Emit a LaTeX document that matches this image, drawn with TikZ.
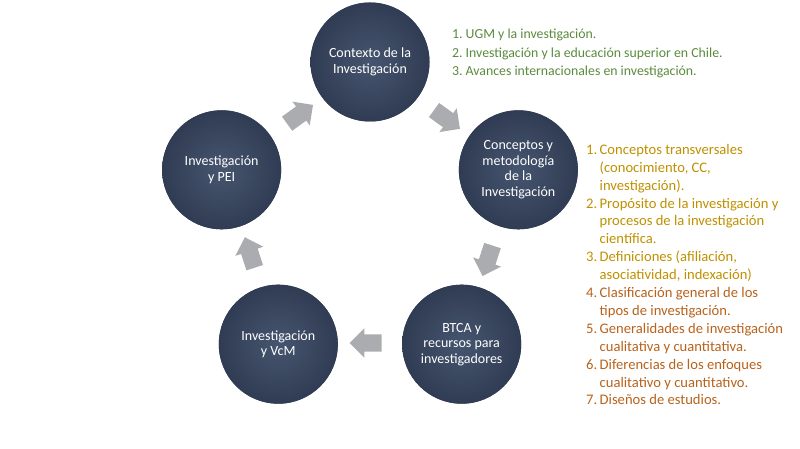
\documentclass[tikz,border=0pt]{standalone}
\usepackage{fontspec}
\setmainfont{Carlito}
\usepackage{xcolor}
\usetikzlibrary{shapes,arrows,positioning,calc}

\definecolor{slate}{HTML}{3E4C65}
\definecolor{slatein}{HTML}{46556F}
\definecolor{slateout}{HTML}{303C53}
\definecolor{arrowgray}{HTML}{AAACAF}
\definecolor{listgreen}{HTML}{5A8A3C}
\definecolor{listgold}{HTML}{BF9000}
\definecolor{listbrown}{HTML}{B8621B}

\newcommand{\itm}[2]{\makebox[13.5pt][l]{#1}#2}
\newcommand{\cnt}[1]{\hspace*{13.5pt}#1}

\begin{document}
\begin{tikzpicture}[x=1pt,y=1pt,
    circ/.style={circle, fill=slate, inner color=slatein, outer color=slateout, minimum size=119pt, inner sep=0pt, text=white, align=center, font=\fontsize{14}{15.5}\selectfont},
    blockarrow/.style={single arrow, fill=arrowgray, minimum height=32pt, inner xsep=0pt, inner ysep=8.5pt, single arrow head extend=6pt}]
    \useasboundingbox (0,0) rectangle (800,449);
    \coordinate (o) at (370,231);

    % Circles
    \node [circ] (ctx)  at ($(o)+(90:156pt)$)   {Contexto de la\\Investigación};
    \node [circ] (conc) at ($(o)+(18:156pt)$)   {Conceptos y\\metodología\\de la\\Investigación};
    \node [circ] (btca) at ($(o)+(-54:156pt)$)  {BTCA y\\recursos para\\investigadores};
    \node [circ] (vcm)  at ($(o)+(-126:156pt)$) {Investigación\\y VcM};
    \node [circ] (pei)  at ($(o)+(162:156pt)$)  {Investigación\\y PEI};

    % Arrows
    \foreach \a [count=\i] in {54,-18,-90,-162,126}
        \node [blockarrow, rotate=\a-90] (arr\i) at ($(o)+(\a:125pt)$) {};

    % Lists
    \node [anchor=north west, inner sep=0pt, align=left, text=listgreen, font=\fontsize{13.8}{18.5}\selectfont] (ctxlist) at (452,420)
        {\itm{1.}{UGM y la investigación.}\\
         \itm{2.}{Investigación y la educación superior en Chile.}\\
         \itm{3.}{Avances internacionales en investigación.}};
    \node [anchor=north west, inner sep=0pt, align=left, text=listgold, font=\fontsize{14.6}{17.9}\selectfont] (conclist) at (586,305)
        {\itm{1.}{Conceptos transversales}\\
         \cnt{(conocimiento, CC,}\\
         \cnt{investigación).}\\
         \itm{2.}{Propósito de la investigación y}\\
         \cnt{procesos de la investigación}\\
         \cnt{científica.}\\
         \itm{3.}{Definiciones (afiliación,}\\
         \cnt{asociatividad, indexación)}\\
         \textcolor{listbrown}{\itm{4.}{Clasificación general de los}}\\
         \textcolor{listbrown}{\cnt{tipos de investigación.}}\\
         \textcolor{listbrown}{\itm{5.}{Generalidades de investigación}}\\
         \textcolor{listbrown}{\cnt{cualitativa y cuantitativa.}}\\
         \textcolor{listbrown}{\itm{6.}{Diferencias de los enfoques}}\\
         \textcolor{listbrown}{\cnt{cualitativo y cuantitativo.}}\\
         \textcolor{listbrown}{\itm{7.}{Diseños de estudios.}}};
\end{tikzpicture}
\end{document}
